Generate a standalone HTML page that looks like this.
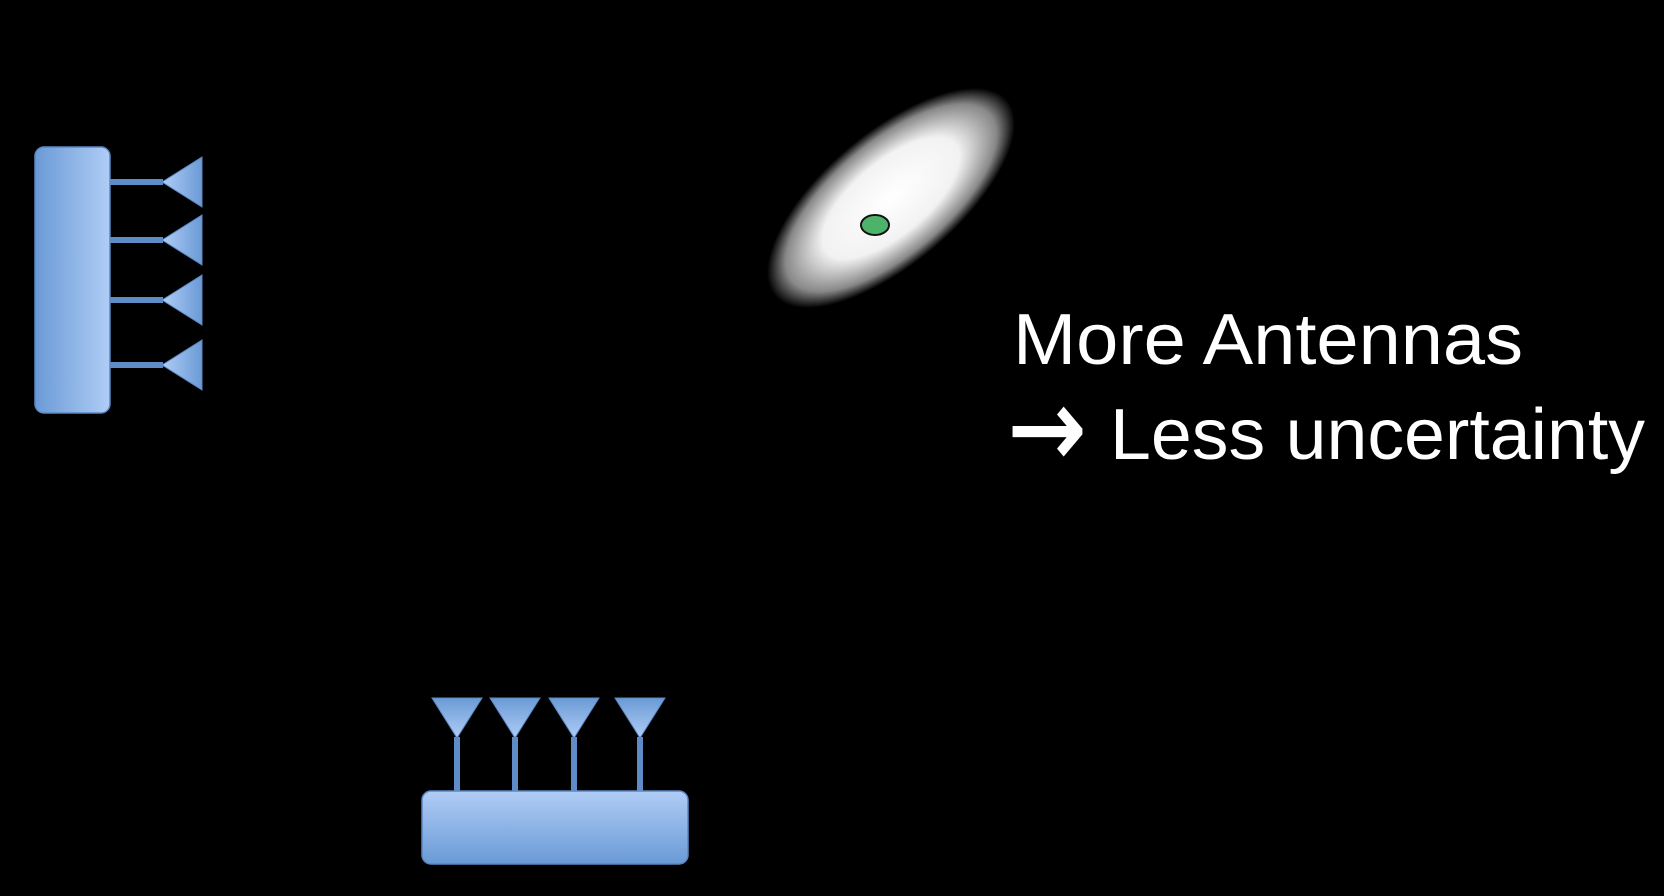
<!DOCTYPE html>
<html><head><meta charset="utf-8"><style>
html,body{margin:0;padding:0;background:#000;width:1664px;height:896px;overflow:hidden}
svg{display:block}
</style></head><body>
<svg width="1664" height="896" viewBox="0 0 1664 896">
<defs>
<linearGradient id="gh" x1="0" x2="1" y1="0" y2="0"><stop offset="0" stop-color="#6a9ad6"/><stop offset="1" stop-color="#b0cdf6"/></linearGradient>
<linearGradient id="gv" x1="0" x2="0" y1="0" y2="1"><stop offset="0" stop-color="#b0cdf6"/><stop offset="1" stop-color="#6a9ad6"/></linearGradient>
<linearGradient id="tl" x1="0" x2="1"><stop offset="0" stop-color="#b0cdf6"/><stop offset="1" stop-color="#6a9ad6"/></linearGradient>
<linearGradient id="td" x1="0" x2="0" y1="0" y2="1"><stop offset="0" stop-color="#6a9ad6"/><stop offset="1" stop-color="#b0cdf6"/></linearGradient>
<radialGradient id="blob"><stop offset="0" stop-color="#fff"/><stop offset="0.55" stop-color="#f2f2f2"/><stop offset="0.85" stop-color="#888"/><stop offset="1" stop-color="#000"/></radialGradient>
</defs>
<g>
<rect x="35" y="147" width="75" height="266" rx="9" fill="url(#gh)" stroke="#5b87c2" stroke-width="1.5"/>
<g id="leftAnt"></g>
</g>
<g>
<rect x="422" y="791" width="266" height="73" rx="9" fill="url(#gv)" stroke="#5b87c2" stroke-width="1.5"/>
<g id="botAnt"></g>
</g>
<ellipse cx="891" cy="198" rx="152" ry="66" transform="rotate(-40 891 198)" fill="url(#blob)"/>
<ellipse cx="875" cy="225" rx="14" ry="10" fill="#4db36b" stroke="#111" stroke-width="2"/>
<text x="1013" y="364" font-family="Liberation Sans, sans-serif" font-size="72" fill="#fff" textLength="510" lengthAdjust="spacingAndGlyphs">More Antennas</text>
<text x="1008" y="466" font-family="DejaVu Sans, sans-serif" font-size="110" fill="#fff" stroke="#fff" stroke-width="2" textLength="78" lengthAdjust="spacingAndGlyphs">→</text>
<text x="1110" y="459" font-family="Liberation Sans, sans-serif" font-size="72" fill="#fff" textLength="535" lengthAdjust="spacingAndGlyphs">Less uncertainty</text>
</svg>
<script>
const ns='http://www.w3.org/2000/svg';
const leftYs=[182,240,300,365];
const botXs=[457,515,574,640];
const L=document.getElementById('leftAnt');
leftYs.forEach(y=>{
 const l=document.createElementNS(ns,'rect');
 l.setAttribute('x',110);l.setAttribute('y',y-3);l.setAttribute('width',53);l.setAttribute('height',6);l.setAttribute('fill','#5f8cc6');
 
 
 L.appendChild(l);
 const t=document.createElementNS(ns,'polygon');
 t.setAttribute('points',`162,${y} 202,${y-25} 202,${y+25}`);t.setAttribute('fill','url(#tl)');t.setAttribute('stroke','#5b87c2');
 
 
 L.appendChild(t);
});
const B=document.getElementById('botAnt');
botXs.forEach(x=>{
 const l=document.createElementNS(ns,'rect');
 l.setAttribute('x',x-3);l.setAttribute('y',737);l.setAttribute('width',6);l.setAttribute('height',54);l.setAttribute('fill','#5f8cc6');
 
 
 B.appendChild(l);
 const t=document.createElementNS(ns,'polygon');
 t.setAttribute('points',`${x-25},698 ${x+25},698 ${x},738`);t.setAttribute('fill','url(#td)');t.setAttribute('stroke','#5b87c2');
 
 
 B.appendChild(t);
});
</script>
</body></html>
